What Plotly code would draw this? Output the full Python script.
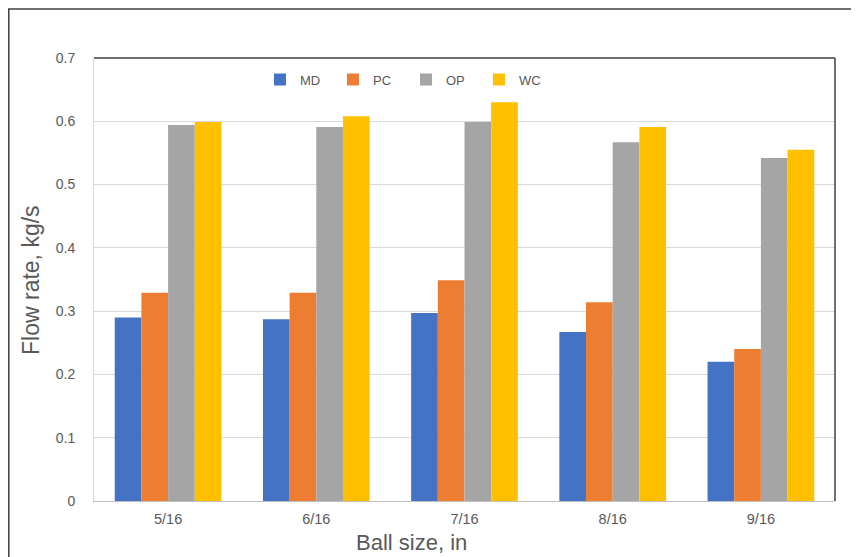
import plotly.graph_objects as go

categories = ["5/16", "6/16", "7/16", "8/16", "9/16"]
md = [0.290, 0.287, 0.297, 0.267, 0.220]
pc = [0.329, 0.329, 0.349, 0.314, 0.240]
op = [0.594, 0.591, 0.599, 0.567, 0.542]
wc = [0.599, 0.608, 0.630, 0.591, 0.555]
series = [("MD", md, "#4472C4"), ("PC", pc, "#ED7D31"), ("OP", op, "#A5A5A5"), ("WC", wc, "#FFC000")]

fig = go.Figure()
for name, vals, col in series:
    fig.add_trace(go.Bar(x=categories, y=vals, name=name, marker=dict(color=col, line=dict(width=0))))

font = "Liberation Sans"
fig.update_layout(
    width=859, height=557,
    margin=dict(l=86, r=32, t=50, b=64, autoexpand=False),
    paper_bgcolor="white", plot_bgcolor="white",
    barmode="group", bargap=0.28, bargroupgap=0,
    font=dict(family=font, color="#595959", size=12),
    legend=dict(orientation="h", x=0.224, y=0.985, xanchor="left", yanchor="top",
                font=dict(size=13, color="#595959"), itemwidth=30, tracegroupgap=0,
                entrywidth=28, entrywidthmode="pixels",
                bgcolor="rgba(0,0,0,0)"),
    xaxis=dict(showgrid=False, showline=True, linecolor="#bfbfbf", ticks="",
               tickfont=dict(size=14.5, color="#595959"), ticklabelstandoff=5),
    yaxis=dict(range=[0, 0.7], showgrid=True, gridcolor="#d9d9d9",
               showline=True, linecolor="#d9d9d9", zeroline=False,
               tickvals=[0, 0.1, 0.2, 0.3, 0.4, 0.5, 0.6, 0.7],
               ticktext=["0", "0.1", "0.2", "0.3", "0.4", "0.5", "0.6", "0.7"],
               tickfont=dict(size=14, color="#595959"), ticks="", ticklabelstandoff=15),
)
fig.add_annotation(text="Ball size, in", xref="paper", yref="paper", x=0.429, y=-0.0948,
                   xanchor="center", yanchor="middle", showarrow=False,
                   font=dict(size=22, color="#595959", family=font))
fig.add_annotation(text="Flow rate, kg/s", xref="paper", yref="paper", x=-0.085, y=0.499,
                   xanchor="center", yanchor="middle", showarrow=False, textangle=-90,
                   font=dict(size=23, color="#595959", family=font))
# plot frame top/right dark
fig.add_shape(type="line", xref="paper", yref="paper", x0=0, x1=1, y0=1, y1=1,
              line=dict(color="#404040", width=1.5))
fig.add_shape(type="line", xref="paper", yref="paper", x0=1, x1=1, y0=0, y1=1,
              line=dict(color="#404040", width=1.5))
# outer chart border
fig.add_shape(type="rect", xref="paper", yref="paper", x0=-0.115, x1=1.1, y0=-0.3, y1=1.1106,
              line=dict(color="#404040", width=1.5), layer="below")
fig.write_html("out.html")
